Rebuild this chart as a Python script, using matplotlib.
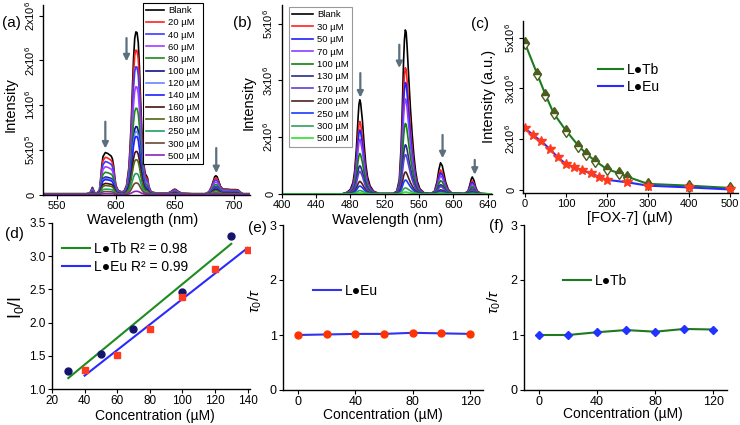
import numpy as np
import matplotlib
matplotlib.use('Agg')
from matplotlib import pyplot as plt

plt.rcParams['font.family'] = ['Liberation Sans', 'DejaVu Sans']
plt.rcParams['mathtext.fontset'] = 'custom'
plt.rcParams['mathtext.rm'] = 'Liberation Sans'
plt.rcParams['mathtext.it'] = 'Liberation Sans:italic'

# ---- (a) L.Eu emission spectra (blank spectrum + relative quenching) ----
a_blank = [(538, 0.02), (575, 0.02), (578, 0.04), (579, 0.10), (580, 0.16), (581, 0.10),
           (582, 0.04), (584, 0.04), (586, 0.10), (587, 0.35), (588, 0.65), (589, 0.85),
           (591, 0.94), (593, 0.92), (595, 0.88), (596, 0.86), (597, 0.80), (598, 0.65),
           (599, 0.40), (600, 0.20), (602, 0.09), (605, 0.06), (607, 0.08), (609, 0.20),
           (611, 0.60), (612, 1.05), (613, 1.60), (614, 2.35), (615, 3.05), (616, 3.50),
           (617, 3.64), (618, 3.62), (619, 3.40), (620, 2.85), (621, 2.10), (622, 1.45),
           (623, 0.95), (624, 0.62), (625, 0.46), (626, 0.42), (627, 0.36), (628, 0.18),
           (630, 0.06), (635, 0.03), (644, 0.03), (647, 0.07), (649, 0.11), (650, 0.12),
           (651, 0.11), (653, 0.07), (656, 0.03), (665, 0.02), (676, 0.02), (679, 0.06),
           (681, 0.16), (683, 0.32), (684, 0.40), (685, 0.42), (686, 0.40), (687, 0.33),
           (689, 0.18), (691, 0.12), (694, 0.12), (698, 0.11), (702, 0.11), (704, 0.10),
           (706, 0.05), (708, 0.02), (714, 0.02)]
a_labels = ['Blank', '20 µM', '40 µM', '60 µM', '80 µM', '100 µM', '120 µM', '140 µM',
            '160 µM', '180 µM', '250 µM', '300 µM', '500 µM']
a_ratio = [1.0, 0.888, 0.786, 0.663, 0.531, 0.418, 0.388, 0.357, 0.265, 0.214, 0.129, 0.071, 0.02]
a_colors = ['black', '#ff2020', '#3b3bff', '#a040ff', '#1a8a1a', '#10108a', '#6a86ff', '#2020ff',
            '#4a0f0f', '#4a6a10', '#20a060', '#6a4a30', '#9020c0']
a_yticks = ['0', '5x10$^5$', '1x10$^6$', '2x10$^6$', '2x10$^6$']

# ---- (b) L.Tb emission spectra ----
b_blank = [(400, 0.0), (470, 0.0), (476, 0.03), (480, 0.08), (483, 0.2), (485, 0.4), (487, 0.8),
           (489, 1.35), (490, 1.58), (491, 1.66), (492, 1.6), (494, 1.3), (496, 0.88),
           (498, 0.52), (500, 0.3), (503, 0.14), (507, 0.05), (513, 0.01), (530, 0.01),
           (534, 0.05), (537, 0.25), (539, 0.8), (540, 1.25), (541, 1.8), (542, 2.35),
           (543, 2.72), (544, 2.89), (545, 2.85), (546, 2.62), (548, 2.05), (550, 1.5),
           (552, 1.05), (554, 0.68), (556, 0.4), (558, 0.22), (561, 0.09), (566, 0.02),
           (574, 0.01), (578, 0.05), (581, 0.22), (583, 0.42), (585, 0.55), (587, 0.5),
           (589, 0.36), (591, 0.21), (594, 0.08), (598, 0.02), (613, 0.01), (617, 0.05),
           (619, 0.15), (621, 0.27), (622, 0.30), (624, 0.24), (626, 0.12), (628, 0.05),
           (632, 0.01), (645, 0.0)]
b_labels = ['Blank', '30 µM', '50 µM', '70 µM', '100 µM', '130 µM', '170 µM', '200 µM',
            '250 µM', '300 µM', '500 µM']
b_ratio = [1.0, 0.77, 0.68, 0.58, 0.43, 0.30, 0.24, 0.134, 0.085, 0.037, 0.012]
b_colors = ['black', '#ff2020', '#2020ff', '#8a40ff', '#108010', '#2a2a90', '#6040d0',
            '#502020', '#1a3aff', '#30a060', '#30e030']
bc_yticks = ['0', '2x10$^6$', '3x10$^6$', '5x10$^6$']

# ---- (c) intensity vs [FOX-7] ----
c_tb_x = [0, 30, 50, 70, 100, 130, 150, 170, 200, 230, 250, 300, 400, 500]
c_tb_y = [2.89, 2.28, 1.875, 1.51, 1.17, 0.875, 0.71, 0.58, 0.41, 0.33, 0.26, 0.12, 0.085, 0.04]
c_eu_x = [0, 20, 40, 60, 80, 100, 120, 140, 160, 180, 200, 250, 300, 400, 500]
c_eu_y = [1.22, 1.08, 0.96, 0.81, 0.645, 0.51, 0.45, 0.39, 0.33, 0.26, 0.20, 0.15, 0.085, 0.05, 0.01]

# ---- (d) Stern-Volmer ----
d_tb_x = [30, 50, 70, 100, 130]
d_tb_y = [1.276, 1.53, 1.90, 2.456, 3.31]
d_eu_x = [40, 60, 80, 100, 120, 140]
d_eu_y = [1.28, 1.51, 1.90, 2.386, 2.80, 3.10]

# ---- (e), (f) lifetime ratio ----
ef_x = [0, 20, 40, 60, 80, 100, 120]
e_eu = [1.0, 1.01, 1.02, 1.02, 1.04, 1.03, 1.02]
f_tb = [1.0, 1.0, 1.05, 1.09, 1.06, 1.11, 1.10]

W, H = 740, 425
fig = plt.figure(figsize=(W / 100, H / 100), dpi=100)


def rect(l, t, r, b):
    return [l / W, 1 - b / H, (r - l) / W, (b - t) / H]


def ftext(x, y, s, **kw):
    kw.setdefault('ha', 'center')
    kw.setdefault('va', 'center')
    fig.text(x / W, 1 - y / H, s, **kw)


def style(ax, size=8):
    for side in ['top', 'right']:
        ax.spines[side].set_visible(False)
    for side in ['left', 'bottom']:
        ax.spines[side].set_linewidth(1.0)
    ax.tick_params(direction='out', length=3, width=0.8, labelsize=size, pad=1.5)


arrow_col = '#5b6f7d'


def arrow(ax, x, tip, tail):
    ax.annotate('', xy=(x, tip), xytext=(x, tail),
                arrowprops=dict(arrowstyle='-|>', color=arrow_col, lw=1.6,
                                mutation_scale=9, shrinkA=0, shrinkB=0))


# (a)
ax_a = fig.add_axes(rect(43, 5, 250, 195))
wl, inten = zip(*a_blank)
wl = np.array(wl)
inten = np.array(inten)
for lab, r, c in zip(a_labels, a_ratio, a_colors):
    ax_a.plot(wl, inten * r, color=c, lw=1.2, label=lab)
ax_a.set_xlim(538, 714)
ax_a.set_ylim(-0.01, 4.24)
ax_a.set_xticks([550, 600, 650, 700])
ax_a.set_yticks(range(5))
ax_a.set_yticklabels(a_yticks, rotation=90, va='center')
style(ax_a)
arrow(ax_a, 591, 1.03, 1.63)
arrow(ax_a, 609, 2.98, 3.5)
arrow(ax_a, 685.3, 0.48, 1.04)
leg = ax_a.legend(loc='upper left', bbox_to_anchor=(143 / W, 1 - 3 / H),
                  bbox_transform=fig.transFigure, fontsize=6.8, fancybox=False,
                  edgecolor='black', framealpha=1, handlelength=1.9, handletextpad=0.4,
                  labelspacing=0.33, borderpad=0.35, borderaxespad=0)
leg.get_frame().set_linewidth(0.8)

# (b)
ax_b = fig.add_axes(rect(281.7, 5, 492, 194))
wl, inten = zip(*b_blank)
wl = np.array(wl)
inten = np.array(inten)
for lab, r, c in zip(b_labels, b_ratio, b_colors):
    ax_b.plot(wl, inten * r, color=c, lw=1.2, label=lab)
ax_b.set_xlim(400, 645)
ax_b.set_ylim(0, 3.33)
ax_b.set_xticks(range(400, 641, 40))
ax_b.set_yticks(range(4))
ax_b.set_yticklabels(bc_yticks, rotation=90, va='center')
style(ax_b)
arrow(ax_b, 491.6, 1.70, 2.13)
arrow(ax_b, 537, 2.22, 2.63)
arrow(ax_b, 587.4, 0.63, 1.04)
arrow(ax_b, 624.9, 0.34, 0.60)
leg = ax_b.legend(loc='upper left', bbox_to_anchor=(289 / W, 1 - 7 / H),
                  bbox_transform=fig.transFigure, fontsize=6.8, fancybox=False,
                  edgecolor='#999999', framealpha=1, handlelength=2.2, handletextpad=0.4,
                  labelspacing=0.36, borderpad=0.35, borderaxespad=0)
leg.get_frame().set_linewidth(0.8)

# (c)
ax_c = fig.add_axes(rect(523, 21, 738, 193))
ax_c.plot(c_tb_x, c_tb_y, color='#1e7a1e', lw=1.5, marker='d', ms=6,
          fillstyle='top', mfc='#4b5e1e', mfcalt='white', mec='#4b5e1e', label='L●Tb')
ax_c.plot(c_eu_x, c_eu_y, color='#2a2aff', lw=1.5, marker='*', ms=7,
          mfc='#ff3b1f', mec='#ff3b1f', label='L●Eu')
ax_c.set_xlim(-4.9, 520)
ax_c.set_ylim(-0.06, 3.33)
ax_c.set_xticks(range(0, 501, 100))
ax_c.set_yticks(range(4))
ax_c.set_yticklabels(bc_yticks, rotation=90, va='center')
style(ax_c)
h1 = plt.Line2D([], [], color='#1e7a1e', lw=1.5)
h2 = plt.Line2D([], [], color='#2a2aff', lw=1.5)
ax_c.legend([h1, h2], ['L●Tb', 'L●Eu'], loc='upper left', bbox_to_anchor=(598 / W, 1 - 63 / H),
            bbox_transform=fig.transFigure, fontsize=10, frameon=False, handlelength=1.8,
            handletextpad=0.3, labelspacing=0.2, borderpad=0, borderaxespad=0)

# (d)
ax_d = fig.add_axes(rect(52, 223, 250, 389))
for xs, ys, lc in [(d_tb_x, d_tb_y, '#1e8c1e'), (d_eu_x, d_eu_y, '#2a2aff')]:
    k, b0 = np.polyfit(xs, ys, 1)
    xx = np.array([xs[0], xs[-1]])
    ax_d.plot(xx, k * xx + b0, color=lc, lw=1.5)
ax_d.plot(d_tb_x, d_tb_y, 'o', ms=5, color='#15156e')
ax_d.plot(d_eu_x, d_eu_y, 's', ms=4.5, color='#ff3b1f')
ax_d.set_xlim(20, 141.5)
ax_d.set_ylim(1.0, 3.5)
ax_d.set_xticks(range(20, 141, 20))
ax_d.set_yticks(np.arange(1.0, 3.51, 0.5))
ax_d.yaxis.set_major_formatter(matplotlib.ticker.FormatStrFormatter('%.1f'))
style(ax_d, 8.5)
h1 = plt.Line2D([], [], color='#1e8c1e', lw=1.5)
h2 = plt.Line2D([], [], color='#2a2aff', lw=1.5)
ax_d.legend([h1, h2], ['L●Tb R² = 0.98', 'L●Eu R² = 0.99'], loc='upper left',
            bbox_to_anchor=(62 / W, 1 - 242 / H), bbox_transform=fig.transFigure,
            fontsize=10, frameon=False, handlelength=2.0, handletextpad=0.3,
            labelspacing=0.3, borderpad=0, borderaxespad=0)

# (e)
ax_e = fig.add_axes(rect(283, 225, 483, 390))
ax_e.plot(ef_x, e_eu, color='#3333ee', lw=1.5, marker='o', ms=5, mfc='#ff3300', mec='#ff3300')
ax_e.set_xlim(-10.5, 129)
ax_e.set_ylim(0, 3)
ax_e.set_xticks([0, 40, 80, 120])
ax_e.set_yticks([0, 1, 2, 3])
style(ax_e, 9)
h = plt.Line2D([], [], color='#3333ee', lw=1.5)
ax_e.legend([h], ['L●Eu'], loc='upper left', bbox_to_anchor=(313 / W, 1 - 284 / H),
            bbox_transform=fig.transFigure, fontsize=10, frameon=False, handlelength=2.0,
            handletextpad=0.3, borderpad=0, borderaxespad=0)

# (f)
ax_f = fig.add_axes(rect(524, 225, 727, 390))
ax_f.plot(ef_x, f_tb, color='#1e7a1e', lw=1.5, marker='D', ms=4.5, mfc='#2233ff', mec='#2233ff')
ax_f.set_xlim(-10.3, 129.5)
ax_f.set_ylim(0, 3)
ax_f.set_xticks([0, 40, 80, 120])
ax_f.set_yticks([0, 1, 2, 3])
style(ax_f, 9)
h = plt.Line2D([], [], color='#1e7a1e', lw=1.5)
ax_f.legend([h], ['L●Tb'], loc='upper left', bbox_to_anchor=(563 / W, 1 - 274 / H),
            bbox_transform=fig.transFigure, fontsize=10, frameon=False, handlelength=2.0,
            handletextpad=0.3, borderpad=0, borderaxespad=0)

# panel letters and axis titles
for s, x, y in [('(a)', 11, 23), ('(b)', 242, 23), ('(c)', 480, 24),
                ('(d)', 14, 234), ('(e)', 257, 228), ('(f)', 496, 226)]:
    ftext(x, y, s, fontsize=11)

ftext(11, 105, 'Intensity', rotation=90, fontsize=10.5)
ftext(249, 103, 'Intensity', rotation=90, fontsize=10.5)
ftext(489, 96, 'Intensity (a.u.)', rotation=90, fontsize=10.5)
ftext(143, 220, 'Wavelength (nm)', fontsize=10.5)
ftext(388, 220, 'Wavelength (nm)', fontsize=10.5)
ftext(630, 218, '[FOX-7] (µM)', fontsize=10.5)
ftext(16, 308, 'I$_0$/I', rotation=90, fontsize=13)
ftext(255, 301, r'$\tau_0/\tau$', rotation=90, fontsize=11)
ftext(494, 302, r'$\tau_0/\tau$', rotation=90, fontsize=11)
ftext(155, 416, 'Concentration (µM)', fontsize=10)
ftext(383, 415, 'Concentration (µM)', fontsize=10)
ftext(623, 414, 'Concentration (µM)', fontsize=10)

fig.savefig('out.png', dpi=100)
